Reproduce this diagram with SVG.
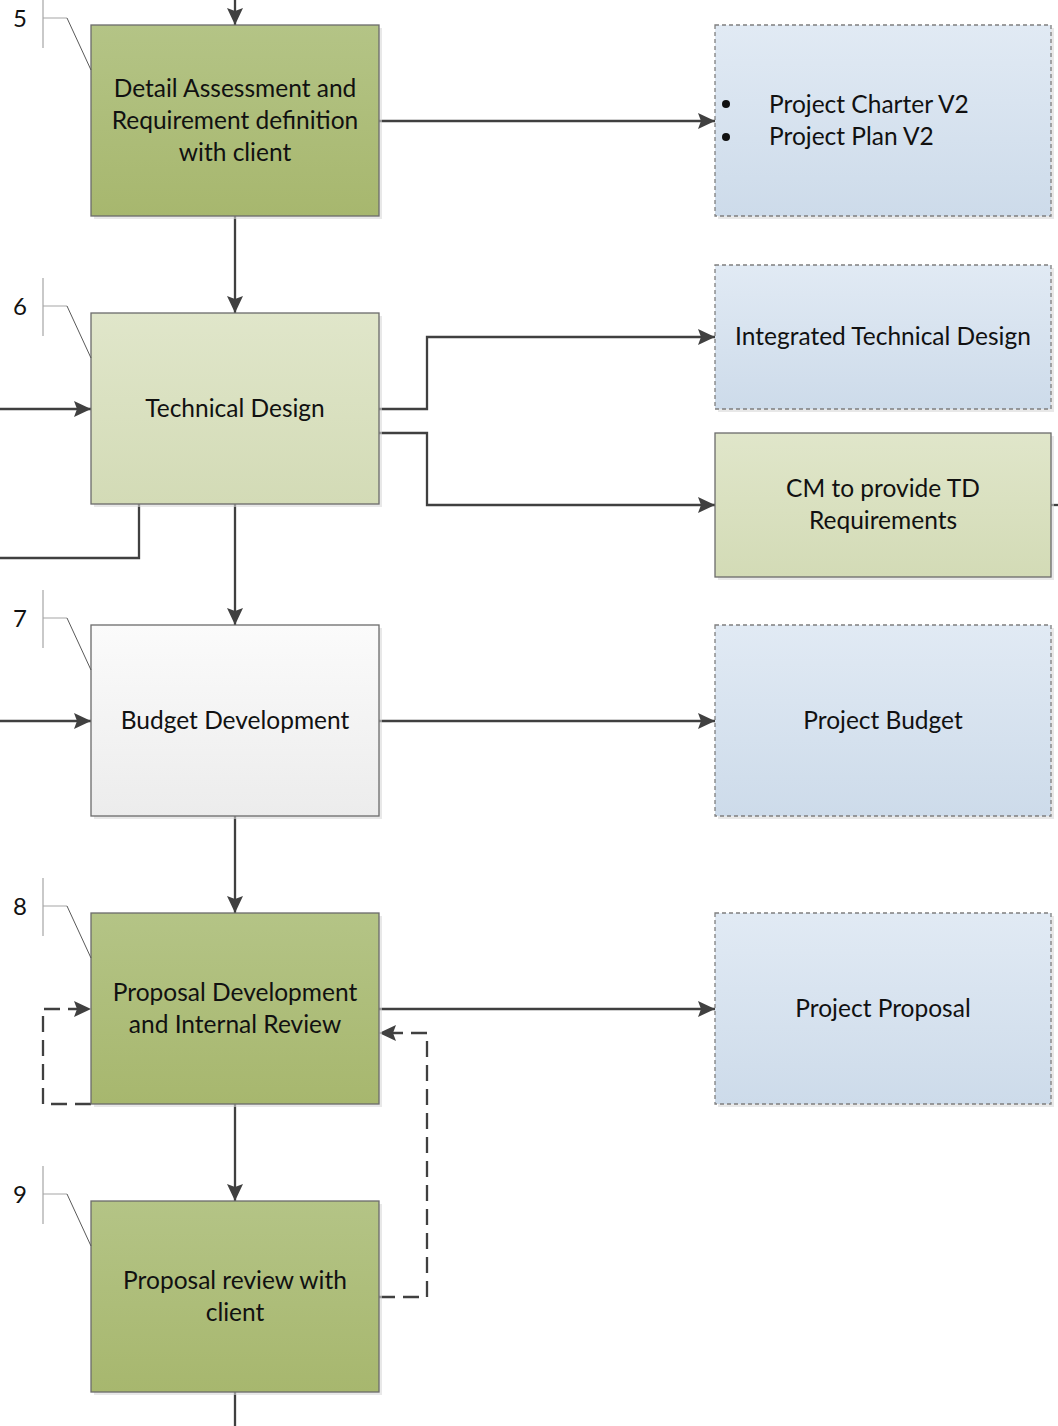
<svg xmlns="http://www.w3.org/2000/svg" width="1058" height="1426" viewBox="0 0 1058 1426">
<defs>
<linearGradient id="gDark" x1="0" y1="0" x2="0" y2="1"><stop offset="0" stop-color="#b4c486"/><stop offset="1" stop-color="#a7b76e"/></linearGradient>
<linearGradient id="gLight" x1="0" y1="0" x2="0" y2="1"><stop offset="0" stop-color="#e0e6ca"/><stop offset="1" stop-color="#d3dbb6"/></linearGradient>
<linearGradient id="gWhite" x1="0" y1="0" x2="0" y2="1"><stop offset="0" stop-color="#fbfbfb"/><stop offset="1" stop-color="#ececec"/></linearGradient>
<linearGradient id="gBlue" x1="0" y1="0" x2="0" y2="1"><stop offset="0" stop-color="#e1eaf4"/><stop offset="1" stop-color="#cddbea"/></linearGradient>
<marker id="ah" viewBox="0 0 17 16" refX="17" refY="8" markerWidth="17" markerHeight="16" markerUnits="userSpaceOnUse" orient="auto"><path d="M0,0 L17,8 L0,16 L3,8 Z" fill="#404040"/></marker>
</defs>
<style>
.shadow{fill:#d9d9d9;opacity:0.6}
.box{stroke:#6b6b6b;stroke-width:1.3}
.out{stroke:#7f7f7f;stroke-width:1.3;stroke-dasharray:4,3}
.t{font-family:Lato,"Open Sans",sans-serif;font-size:24.5px;fill:#111;text-anchor:middle}
.tl{font-family:Lato,"Open Sans",sans-serif;font-size:24.5px;fill:#111}
.num{font-family:Lato,"Open Sans",sans-serif;font-size:24px;fill:#111}
.c{fill:none;stroke:#404040;stroke-width:2.3}
.cd{fill:none;stroke:#404040;stroke-width:2.3;stroke-dasharray:16,8}
.br{fill:none;stroke:#a6a6a6;stroke-width:1.2}
.brd{fill:none;stroke:#595959;stroke-width:1}
</style>

<g id="connectors">
<path class="c" d="M235,0 V25" marker-end="url(#ah)"/>
<path class="c" d="M379,121 H715" marker-end="url(#ah)"/>
<path class="c" d="M235,216 V313" marker-end="url(#ah)"/>
<path class="c" d="M0,409 H91" marker-end="url(#ah)"/>
<path class="c" d="M379,409 H427 V337 H715" marker-end="url(#ah)"/>
<path class="c" d="M379,433 H427 V505 H715" marker-end="url(#ah)"/>
<path class="c" d="M139,504 V558 H0"/>
<path class="c" d="M235,504 V625" marker-end="url(#ah)"/>
<path class="c" d="M0,721 H91" marker-end="url(#ah)"/>
<path class="c" d="M379,721 H715" marker-end="url(#ah)"/>
<path class="c" d="M235,816 V913" marker-end="url(#ah)"/>
<path class="c" d="M379,1009 H715" marker-end="url(#ah)"/>
<path class="cd" d="M91,1104 H43 V1009 H91" marker-end="url(#ah)"/>
<path class="cd" d="M379,1297 H427 V1033 H379" marker-end="url(#ah)"/>
<path class="c" d="M235,1104 V1201" marker-end="url(#ah)"/>
<path class="c" d="M235,1392 V1426"/>
<path class="c" d="M1051,505 H1058"/>
</g>

<g id="node5">
<rect class="shadow" x="94" y="28" width="288" height="191"/>
<rect class="box" x="91" y="25" width="288" height="191" fill="url(#gDark)"/>
<text class="t" x="235" y="97">Detail Assessment and</text>
<text class="t" x="235" y="129">Requirement definition</text>
<text class="t" x="235" y="161">with client</text>
<text class="num" x="13" y="27">5</text>
<path class="br" d="M43,0 V48 M43,18 H67"/>
<path class="brd" d="M67,18 L91,70"/>
</g>

<g id="node6">
<rect class="shadow" x="94" y="316" width="288" height="191"/>
<rect class="box" x="91" y="313" width="288" height="191" fill="url(#gLight)"/>
<text class="t" x="235" y="417">Technical Design</text>
<text class="num" x="13" y="315">6</text>
<path class="br" d="M43,278 V336 M43,306 H67"/>
<path class="brd" d="M67,306 L91,358"/>
</g>

<g id="node7">
<rect class="shadow" x="94" y="628" width="288" height="191"/>
<rect class="box" x="91" y="625" width="288" height="191" fill="url(#gWhite)"/>
<text class="t" x="235" y="729">Budget Development</text>
<text class="num" x="13" y="627">7</text>
<path class="br" d="M43,590 V648 M43,618 H67"/>
<path class="brd" d="M67,618 L91,670"/>
</g>

<g id="node8">
<rect class="shadow" x="94" y="916" width="288" height="191"/>
<rect class="box" x="91" y="913" width="288" height="191" fill="url(#gDark)"/>
<text class="t" x="235" y="1001">Proposal Development</text>
<text class="t" x="235" y="1033">and Internal Review</text>
<text class="num" x="13" y="915">8</text>
<path class="br" d="M43,878 V936 M43,906 H67"/>
<path class="brd" d="M67,906 L91,958"/>
</g>

<g id="node9">
<rect class="shadow" x="94" y="1204" width="288" height="191"/>
<rect class="box" x="91" y="1201" width="288" height="191" fill="url(#gDark)"/>
<text class="t" x="235" y="1289">Proposal review with</text>
<text class="t" x="235" y="1321">client</text>
<text class="num" x="13" y="1203">9</text>
<path class="br" d="M43,1166 V1224 M43,1194 H67"/>
<path class="brd" d="M67,1194 L91,1246"/>
</g>

<g id="charter">
<rect class="shadow" x="718" y="28" width="336" height="191"/>
<rect class="out" x="715" y="25" width="336" height="191" fill="url(#gBlue)"/>
<circle cx="726" cy="104" r="4" fill="#111"/>
<circle cx="726" cy="137" r="4" fill="#111"/>
<text class="tl" x="769" y="113">Project Charter V2</text>
<text class="tl" x="769" y="145">Project Plan V2</text>
</g>

<g id="itd">
<rect class="shadow" x="718" y="268" width="336" height="144"/>
<rect class="out" x="715" y="265" width="336" height="144" fill="url(#gBlue)"/>
<text class="t" x="883" y="345">Integrated Technical Design</text>
</g>

<g id="cm">
<rect class="shadow" x="718" y="436" width="336" height="144"/>
<rect class="box" x="715" y="433" width="336" height="144" fill="url(#gLight)"/>
<text class="t" x="883" y="497">CM to provide TD</text>
<text class="t" x="883" y="529">Requirements</text>
</g>

<g id="budget">
<rect class="shadow" x="718" y="628" width="336" height="191"/>
<rect class="out" x="715" y="625" width="336" height="191" fill="url(#gBlue)"/>
<text class="t" x="883" y="729">Project Budget</text>
</g>

<g id="proposal">
<rect class="shadow" x="718" y="916" width="336" height="191"/>
<rect class="out" x="715" y="913" width="336" height="191" fill="url(#gBlue)"/>
<text class="t" x="883" y="1017">Project Proposal</text>
</g>
</svg>
